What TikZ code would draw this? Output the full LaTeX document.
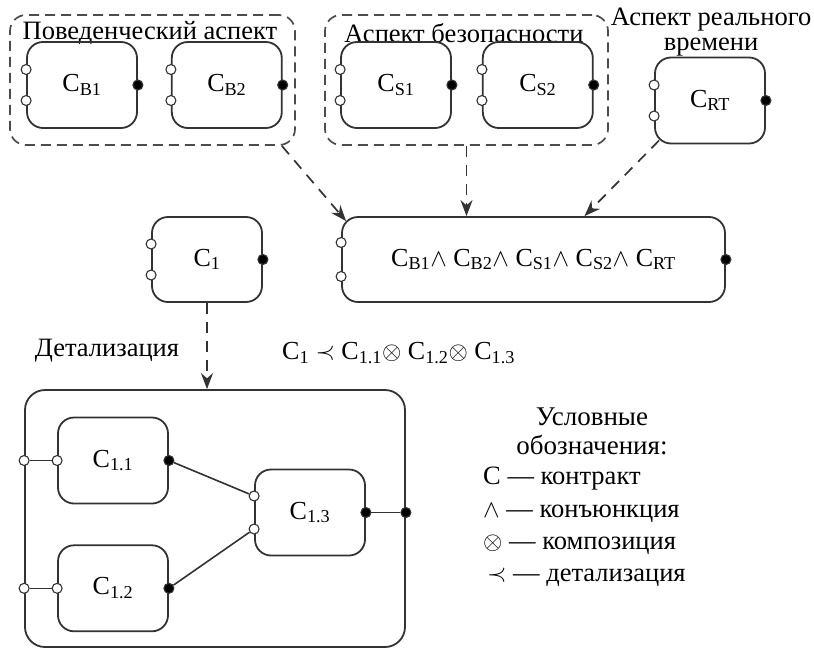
\documentclass[tikz,border=0pt]{standalone}
\usepackage{fontspec}
\setmainfont{Liberation Serif}
\usetikzlibrary{positioning,arrows.meta}
\pgfdeclarelayer{bg}
\pgfsetlayers{bg,main}

% contract with two inputs and one output
\newcommand\ports[2][15.5pt]{%
  \node[inport, yshift=#1]  (#2-i1) at (#2.west) {};
  \node[inport, yshift=-#1] (#2-i2) at (#2.west) {};
  \node[outport]            (#2-o)  at (#2.east) {};}
% contract with one input and one output
\newcommand\inout[1]{%
  \node[inport]  (#1-i) at (#1.west) {};
  \node[outport] (#1-o) at (#1.east) {};}
\newcommand\ct[1]{C\textsubscript{#1}}

\begin{document}
\begin{tikzpicture}[x=1pt, y=-1pt,
    contract/.style={draw=black!80, line width=1.8pt, rounded corners=16pt,
      minimum width=110pt, minimum height=86pt, inner sep=0pt,
      font=\fontsize{26}{28}\selectfont},
    group/.style={draw=black!70, line width=1.7pt, dash pattern=on 10pt off 6pt,
      rounded corners=16pt, inner sep=0pt},
    inport/.style={circle, draw=black!80, fill=white, line width=1.1pt,
      inner sep=0pt, minimum size=10pt},
    outport/.style={inport, fill=black},
    link/.style={draw=black!80, line width=1.7pt, dash pattern=on 11pt off 8pt,
      -{Stealth[length=16pt,width=12pt]}},
    wire/.style={draw=black!80, line width=1.6pt},
    lbl/.style={font=\fontsize{26.5}{25}\selectfont, inner sep=0pt},
    legend/.style={lbl, anchor=base west},
    node distance=33pt and 33pt]
  \useasboundingbox (0,0) rectangle (814,648);

  % aspects
  \node[group, minimum width=285pt, minimum height=130pt] (gB) at (152.5,80) {};
  \node[group, minimum width=283pt, minimum height=130pt] (gS) at (466.5,80) {};
  \node[lbl] (tB) at (150,33) {Поведенческий аспект};
  \node[lbl] (tS) at (464,33) {Аспект безопасности};
  \node[lbl, align=center] (tRT) at (711,32) {Аспект реального\\времени};

  \node[contract]                          (b1) at (82,85)    {\ct{B1}};
  \node[contract, right=of b1]             (b2)               {\ct{B2}};
  \node[contract]                          (s1) at (396,85)   {\ct{S1}};
  \node[contract, right=30pt of s1]        (s2)               {\ct{S2}};
  \node[contract]                          (rt) at (710,100.5) {\ct{RT}};
  \node[contract, minimum width=383pt, minimum height=85pt] (conj) at (533.5,259.5)
    {\ct{B1}$\wedge$ \ct{B2}$\wedge$ \ct{S1}$\wedge$ \ct{S2}$\wedge$ \ct{RT}};
  \node[contract, minimum height=85pt]     (c1) at (207,259.5) {\ct{1}};

  \foreach \n in {b1,b2,s1,s2,rt,c1} {\ports{\n}}
  \ports[17pt]{conj}

  % refinement
  \node[contract, minimum width=380pt, minimum height=257pt, rounded corners=20pt]
    (det) at (215,518.5) {};
  \node[contract] (c11) at (113,460.5) {\ct{1.1}};
  \node[contract, below=40pt of c11] (c12) {\ct{1.2}};
  \node[contract] (c13) at (310,512.5) {\ct{1.3}};
  \inout{c11}
  \inout{c12}
  \ports[16.5pt]{c13}
  \node[inport]  (det-i1) at (det.west |- c11) {};
  \node[inport]  (det-i2) at (det.west |- c12) {};
  \node[outport] (det-o)  at (det.east |- c13) {};

  \node[lbl] (dlbl) at (107,351) {Детализация};
  \node[lbl, anchor=west, font=\fontsize{26}{28}\selectfont] (rule) at (282,353)
    {\ct{1} $\prec$ \ct{1.1}$\otimes$ \ct{1.2}$\otimes$ \ct{1.3}};

  % legend
  \node[lbl, align=center, font=\fontsize{27}{29}\selectfont] (legT) at (592,431)
    {Условные\\обозначения:};
  \node[legend] (leg1) at (483,484) {C — контракт};
  \node[legend] (leg2) at (483,517) {$\wedge$ — конъюнкция};
  \node[legend] (leg3) at (483,549) {$\otimes$ — композиция};
  \node[legend] (leg4) at (487,581) {$\prec$ — детализация};

  \begin{pgfonlayer}{bg}
    \draw[wire] (det-i1) -- (c11-i);
    \draw[wire] (det-i2) -- (c12-i);
    \draw[wire] (c11-o) -- (c13-i1);
    \draw[wire] (c12-o) -- (c13-i2);
    \draw[wire] (c13-o) -- (det-o);
  \end{pgfonlayer}

  \draw[link] ([xshift=-14pt]gB.south east) -- ([xshift=5pt,yshift=-5pt]conj.north west);
  \draw[link] (gS.south) -- (gS.south |- conj.north);
  \draw[link] ([xshift=5pt,yshift=4pt]rt.south west) -- ([xshift=51pt]conj.north);
  \draw[link] (c1.south) -- (c1.south |- det.north);

\end{tikzpicture}
\end{document}
